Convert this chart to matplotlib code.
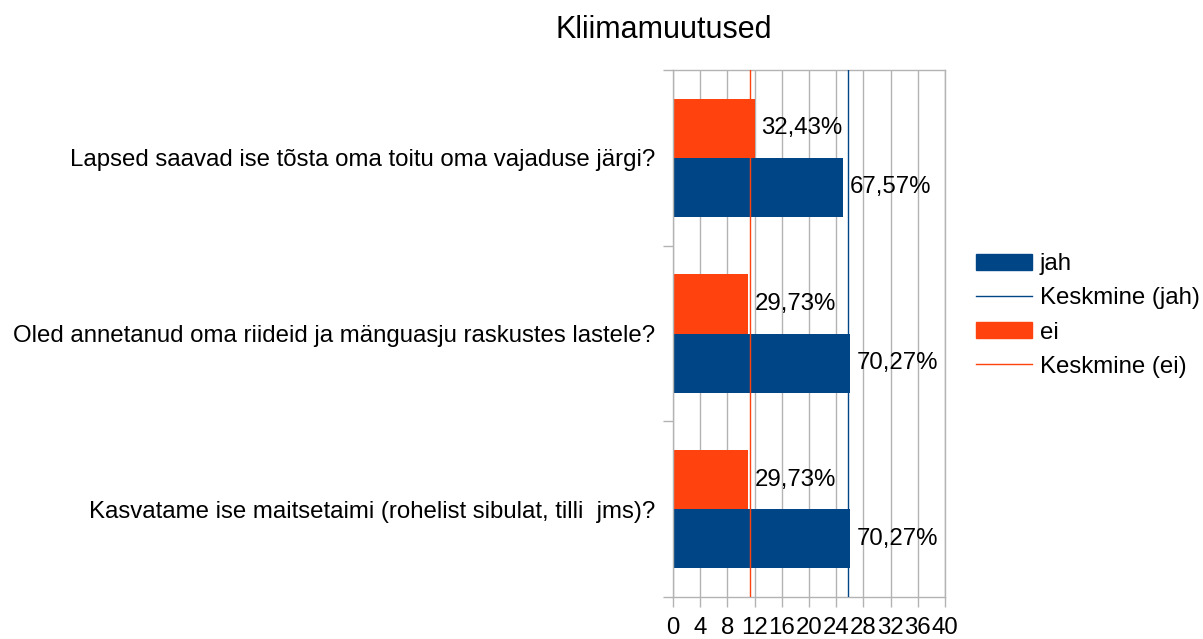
import numpy as np
import matplotlib
matplotlib.use("Agg")
import matplotlib.pyplot as plt
from matplotlib.patches import Patch
from matplotlib.lines import Line2D

plt.rcParams['font.family'] = ['Liberation Sans', 'DejaVu Sans']

# data
questions = [
    "Lapsed saavad ise tõsta oma toitu oma vajaduse järgi?",
    "Oled annetanud oma riideid ja mänguasju raskustes lastele?",
    "Kasvatame ise maitsetaimi (rohelist sibulat, tilli  jms)?",
]
jah = [25, 26, 26]
ei = [12, 11, 11]
jah_pct = [67.57, 70.27, 70.27]
ei_pct = [32.43, 29.73, 29.73]
xticks = list(range(0, 41, 4))

blue = '#004586'
orange = '#ff420e'
grid = '#b3b3b3'
fs = 17.3

fig = plt.figure(figsize=(12.03, 6.39), dpi=100)
ax = fig.add_axes([673 / 1203, 1 - 597 / 639, 272 / 1203, 527 / 639])

y = np.arange(len(questions))
h = 0.336
b_jah = ax.barh(y + h / 2, jah, height=h, color=blue, zorder=2)
b_ei = ax.barh(y - h / 2, ei, height=h, color=orange, zorder=2)

ax.bar_label(b_jah, labels=[f"{v:.2f}%".replace('.', ',') for v in jah_pct],
             padding=5, fontsize=fs, color='black')
ax.bar_label(b_ei, labels=[f"{v:.2f}%".replace('.', ',') for v in ei_pct],
             padding=5, fontsize=fs, color='black')

# averages
ax.axvline(np.mean(jah), color=blue, lw=1.0, zorder=3)
ax.axvline(np.mean(ei), color=orange, lw=1.0, zorder=3)

ax.set_xlim(0, 40)
ax.set_ylim(2.5, -0.5)
ax.set_xticks(xticks)
ax.set_xticklabels([str(t) for t in xticks], fontsize=fs)
ax.set_yticks(y)
ax.set_yticklabels(questions, fontsize=fs)
ax.set_yticks([-0.5, 0.5, 1.5, 2.5], minor=True)
ax.tick_params(axis='y', which='major', length=0, pad=13)
ax.tick_params(axis='y', which='minor', length=7.2, width=1, color=grid)
ax.tick_params(axis='x', length=7.2, width=1, color=grid, pad=7)
ax.grid(axis='x', color=grid, lw=1, zorder=0)
ax.set_axisbelow(True)
for s in ax.spines.values():
    s.set_color(grid)
    s.set_linewidth(1)

fig.text(664 / 1203, 1 - 38 / 639, "Kliimamuutused", fontsize=22,
         ha='center', va='baseline')

handles = [
    Patch(color=blue),
    Line2D([], [], color=blue, lw=1),
    Patch(color=orange),
    Line2D([], [], color=orange, lw=1),
]
fig.legend(handles, ["jah", "Keskmine (jah)", "ei", "Keskmine (ei)"],
           loc='center left', bbox_to_anchor=(976 / 1203, 1 - 315.5 / 639),
           frameon=False, fontsize=fs, borderpad=0, borderaxespad=0,
           handlelength=2.35, handleheight=0.68, handletextpad=0.3,
           labelspacing=0.5)

fig.savefig("out.png", dpi=100)
